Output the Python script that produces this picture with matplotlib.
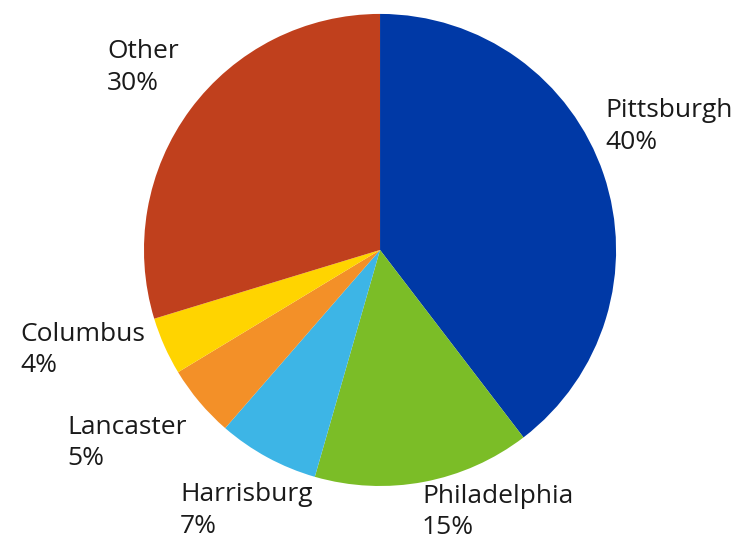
import matplotlib.pyplot as plt

cities = ["Pittsburgh", "Philadelphia", "Harrisburg", "Lancaster", "Columbus", "Other"]
shares = [40, 15, 7, 5, 4, 30]
colors = ["#0039a6", "#7bbd27", "#3db5e6", "#f39028", "#ffd400", "#c0401d"]

# left edge / vertical centre of each two-line label, in pie radius units
label_pos = [(0.953, 0.523), (0.178, -1.110), (-0.847, -1.105),
             (-1.326, -0.818), (-1.525, -0.424), (-1.157, 0.773)]

plt.rcParams["font.family"] = ["Open Sans", "DejaVu Sans"]

fig = plt.figure(figsize=(7.4, 5.45), dpi=100)
ax = fig.add_axes([0, 0, 1, 1])
ax.pie(shares, colors=colors, startangle=90, counterclock=False,
       radius=1.0, wedgeprops=dict(linewidth=0))

for name, val, (x, y) in zip(cities, shares, label_pos):
    ax.text(x, y, f"{name}\n{val}%", ha="left", va="center",
            fontsize=19, linespacing=1.36, color="#1a1a1a")

ax.set_xlim(-1.610, 1.525)
ax.set_ylim(-1.250, 1.059)
ax.set_aspect("auto")
ax.axis("off")

fig.savefig("out.png", dpi=100)
